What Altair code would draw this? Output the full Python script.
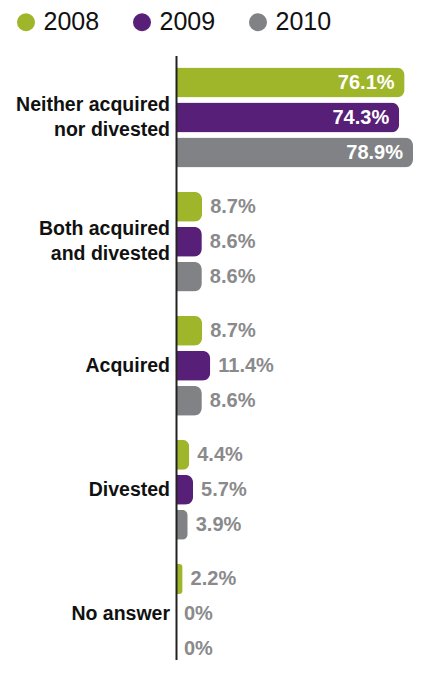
import altair as alt
import pandas as pd

categories = ["Neither acquired|nor divested", "Both acquired|and divested", "Acquired", "Divested", "No answer"]
years = ["2008", "2009", "2010"]
v2008 = [76.1, 8.7, 8.7, 4.4, 2.2]
v2009 = [74.3, 8.6, 11.4, 5.7, 0]
v2010 = [78.9, 8.6, 8.6, 3.9, 0]
colors = ["#9fb52a", "#571f77", "#808285"]

rows = []
for yr, vals in zip(years, [v2008, v2009, v2010]):
    for c, v in zip(categories, vals):
        rows.append({"category": c, "year": yr, "value": v, "label": f"{v:g}%"})
df = pd.DataFrame(rows)
cat_df = pd.DataFrame({"category": categories})

yscale = alt.Scale(paddingInner=0, paddingOuter=0, range=[2.5, 623])
y_enc = alt.Y("category:N", sort=categories, scale=yscale,
              axis=alt.Axis(labels=False, ticks=False, title=None, domainColor="#222222",
                            domainWidth=2, zindex=1, grid=False))
yoff = alt.YOffset("year:N", sort=years, scale=alt.Scale(paddingInner=0.143, paddingOuter=0.346))
x_enc = alt.X("value:Q", scale=alt.Scale(domain=[0, 78.9], nice=False, zero=True), axis=None)

base = alt.Chart(df)

bars = base.mark_bar(cornerRadiusEnd=8).encode(
    x=x_enc,
    y=y_enc,
    yOffset=yoff,
    color=alt.Color("year:N", sort=years, scale=alt.Scale(domain=years, range=colors),
                    legend=alt.Legend(title=None, orient="none", legendX=-162.5, legendY=-43.5,
                                      direction="horizontal", symbolType="circle",
                                      symbolSize=324, symbolStrokeWidth=0,
                                      labelFont="Liberation Sans", labelFontSize=25,
                                      labelColor="#111111", labelOffset=5, columnPadding=30,
                                      padding=0)),
)

outside = base.transform_filter("datum.value < 50").mark_text(
    align="left", baseline="middle", dx=8, font="Liberation Sans", fontWeight="bold",
    fontSize=20, color="#8a8a8c"
).encode(x=x_enc, y=y_enc, yOffset=yoff, text="label:N")

inside = base.transform_filter("datum.value >= 50").mark_text(
    align="right", baseline="middle", dx=-10, font="Liberation Sans", fontWeight="bold",
    fontSize=20, color="white"
).encode(x=x_enc, y=y_enc, yOffset=yoff, text="label:N")

cat_multi = alt.Chart(cat_df).transform_filter("indexof(datum.category, '|') >= 0").mark_text(
    align="right", baseline="middle", lineBreak="|", font="Liberation Sans",
    fontWeight="bold", fontSize=19.5, color="#111111", lineHeight=25, dy=-12.5
).encode(x=alt.value(-6), y=alt.Y("category:N", sort=categories), text="category:N")

cat_single = alt.Chart(cat_df).transform_filter("indexof(datum.category, '|') < 0").mark_text(
    align="right", baseline="middle", font="Liberation Sans",
    fontWeight="bold", fontSize=19.5, color="#111111"
).encode(x=alt.value(-6), y=alt.Y("category:N", sort=categories), text="category:N")

chart = alt.layer(bars, outside, inside, cat_multi, cat_single).properties(
    width=237, height=607,
    autosize=alt.AutoSizeParams(type="none"),
    padding={"left": 168, "top": 45, "right": 0, "bottom": 0},
).configure_view(stroke=None)

chart.save("out.html", embed_options={"renderer": "svg", "actions": False})
